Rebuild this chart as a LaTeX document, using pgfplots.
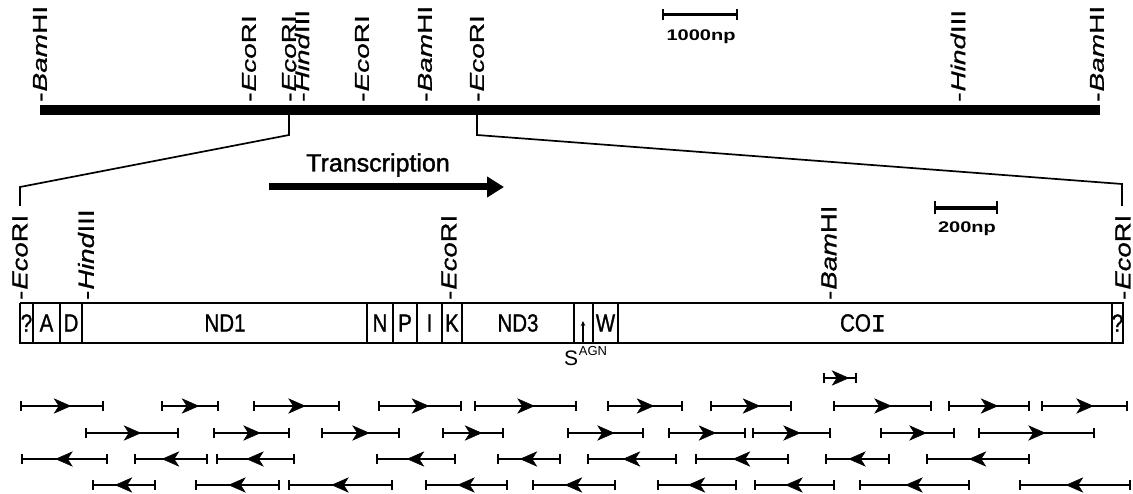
\documentclass[border=0pt]{standalone}
\usepackage{fontspec}
\setmainfont{Liberation Sans}
\newfontfamily\toplabfont[FakeStretch=1.4,FakeBold=1]{Liberation Sans}
\newfontfamily\midlabfont[FakeStretch=1.25,FakeBold=1]{Liberation Sans}
\newfontfamily\genefont[FakeStretch=0.82,FakeBold=1]{Liberation Sans}
\newfontfamily\barfont[FakeStretch=1.3]{Liberation Sans}
\newfontfamily\transfont[FakeBold=1.5]{Liberation Sans}
\newfontfamily\monofont[FakeBold=1]{Liberation Mono}
\usepackage{pgfplots}
\pgfplotsset{compat=1.18}
\usepackage{pgfplotstable}
\usetikzlibrary{arrows.meta}

\pgfdeclareplotmark{rhead}{%
  \pgfpathmoveto{\pgfqpoint{8.5pt}{0pt}}%
  \pgfpathlineto{\pgfqpoint{-7.5pt}{7pt}}%
  \pgfpathlineto{\pgfqpoint{-3pt}{0pt}}%
  \pgfpathlineto{\pgfqpoint{-7.5pt}{-7pt}}%
  \pgfpathclose\pgfusepathqfillstroke}
\pgfdeclareplotmark{lhead}{%
  \pgfpathmoveto{\pgfqpoint{-8.5pt}{0pt}}%
  \pgfpathlineto{\pgfqpoint{7.5pt}{7pt}}%
  \pgfpathlineto{\pgfqpoint{3pt}{0pt}}%
  \pgfpathlineto{\pgfqpoint{7.5pt}{-7pt}}%
  \pgfpathclose\pgfusepathqfillstroke}

% clone fragments: start, end, row height (pixels, y downwards)
\pgfplotstableread{
x0 x1 y
21 103 406
162 218 406
254 339 406
379 461 406
475 576 406
608 682 406
711 791 406
834 931 406
949 1029 406
1042 1127 406
}\rowA
\pgfplotstableread{
x0 x1 y
86 178 433
214 289 433
322 399 433
443 503 433
568 643 433
669 745 433
753 830 433
881 954 433
979 1094 433
}\rowB
\pgfplotstableread{
x0 x1 y
22 107 459
135 207 459
217 294 459
377 455 459
498 560 459
588 676 459
696 788 459
826 889 459
927 1029 459
}\rowC
\pgfplotstableread{
x0 x1 y
93 155 485
196 279 485
289 392 485
426 507 485
533 615 485
658 736 485
755 834 485
860 969 485
1020 1130 485
}\rowD
\pgfplotstableread{
x0 x1 y
824 856 378
}\rowS

\newcommand\Eco{\textit{Eco}RI}
\newcommand\Bam{\textit{Bam}HI}
\newcommand\Hind{\textit{Hind}III}

\tikzset{
  toplab/.style={rotate=90,anchor=west,inner sep=0pt,font=\fontsize{20}{20}\toplabfont},
  midlab/.style={rotate=90,anchor=west,inner sep=0pt,font=\fontsize{22}{22}\midlabfont},
  gene/.style={inner sep=0pt,font=\fontsize{25}{25}\genefont},
}
\pgfplotsset{
  seg/.style={only marks,black,line width=2.8pt,
    mark options={fill=black,line width=0.6pt},
    error bars/x dir=both,error bars/x explicit,
    error bars/error mark=|,
    error bars/error bar style={line width=2.8pt,black},
    error bars/error mark options={line width=2.2pt,mark size=5pt,black}},
}

\begin{document}
\begin{tikzpicture}
\begin{axis}[x=1pt,y=1pt,xmin=0,xmax=1133,ymin=0,ymax=494,
  y dir=reverse,hide axis,clip=false,scale only axis,
  anchor=south west,at={(0,0)},
]
% ---------- overview map ----------
\addplot[black,line width=10pt] coordinates {(40,110) (1100,110)};
\node[toplab] at (axis cs:40,102) {-\kern1pt\Bam};
\node[toplab] at (axis cs:249,102) {-\kern1pt\Eco};
\node[toplab] at (axis cs:289,102) {-\kern1pt\Eco};
\node[toplab] at (axis cs:302,102) {-\kern1pt\Hind};
\node[toplab] at (axis cs:362,102) {-\kern1pt\Eco};
\node[toplab] at (axis cs:425,102) {-\kern1pt\Bam};
\node[toplab] at (axis cs:477,102) {-\kern1pt\Eco};
\node[toplab] at (axis cs:958,102) {-\kern1pt\Hind};
\node[toplab] at (axis cs:1097,102) {-\kern1pt\Bam};
% scale bar 1000 np
\addplot[black,line width=3pt,{Bar[width=11pt,line width=2pt]}-{Bar[width=11pt,line width=2pt]}] coordinates {(662,15) (738,15)};
\node[font=\fontsize{15.4}{15.4}\barfont\bfseries] at (axis cs:701,37) {1000np};
% ---------- expansion lines ----------
\addplot[black,line width=1.7pt] coordinates {(289,115) (289,135) (20,187) (20,206)};
\addplot[black,line width=1.7pt] coordinates {(477,115) (477,135) (1122,184) (1122,206)};
% transcription
\node[font=\fontsize{25}{25}\transfont] at (axis cs:378,165) {Transcription};
\addplot[black,line width=7pt,-{Triangle[length=17pt,width=20pt]}] coordinates {(269,187) (504,187)};
% scale bar 200 np
\addplot[black,line width=4pt,{Bar[width=13pt,line width=2pt]}-{Bar[width=13pt,line width=2pt]}] coordinates {(934,208) (998,208)};
\node[font=\fontsize{15.4}{15.4}\barfont\bfseries] at (axis cs:967,229) {200np};
% ---------- detailed map ----------
\node[midlab] at (axis cs:20,300) {-\kern1pt\Eco};
\node[midlab] at (axis cs:86,300) {-\kern1pt\Hind};
\node[midlab] at (axis cs:449,300) {-\kern1pt\Eco};
\node[midlab] at (axis cs:829,300) {-\kern1pt\Bam};
\node[midlab] at (axis cs:1123,300) {-\kern1pt\Eco};
% gene box
\addplot[black,line width=1.9pt] coordinates {(20,303) (1123,303) (1123,343) (20,343) (20,303)};
\addplot[black,line width=1.9pt,unbounded coords=jump] coordinates {
 (33,303) (33,343) (33,nan)
 (60,303) (60,343) (60,nan)
 (82,303) (82,343) (82,nan)
 (367,303) (367,343) (367,nan)
 (393,303) (393,343) (393,nan)
 (417,303) (417,343) (417,nan)
 (442,303) (442,343) (442,nan)
 (462,303) (462,343) (462,nan)
 (574,303) (574,343) (574,nan)
 (593,303) (593,343) (593,nan)
 (618,303) (618,343) (618,nan)
 (1112,303) (1112,343)};
\node[gene] at (axis cs:26.5,323) {?};
\node[gene] at (axis cs:46.5,323) {A};
\node[gene] at (axis cs:71,323) {D};
\node[gene] at (axis cs:225,323) {ND1};
\node[gene] at (axis cs:380,323) {N};
\node[gene] at (axis cs:405,323) {P};
\node[gene] at (axis cs:429.5,323) {I};
\node[gene] at (axis cs:452,323) {K};
\node[gene] at (axis cs:518,323) {ND3};
\node[gene] at (axis cs:605.5,323) {W};
\node[gene] at (axis cs:863,323) {CO{\monofont I}};
\node[gene] at (axis cs:1117.5,323) {?};
% S(AGN)
\addplot[black,line width=1.3pt,-{Stealth[length=5pt,width=4.5pt]}] coordinates {(583,343) (583,321)};
\node[inner sep=0pt,font=\fontsize{21}{21}\selectfont] at (axis cs:571,358) {S};
\node[inner sep=0pt,font=\fontsize{13}{13}\selectfont] at (axis cs:593,351) {AGN};
% ---------- clone fragments ----------
\addplot[seg,mark=rhead] table[x expr={(\thisrow{x0}+\thisrow{x1})/2},y=y,x error expr={(\thisrow{x1}-\thisrow{x0})/2}] {\rowS};
\addplot[seg,mark=rhead] table[x expr={(\thisrow{x0}+\thisrow{x1})/2},y=y,x error expr={(\thisrow{x1}-\thisrow{x0})/2}] {\rowA};
\addplot[seg,mark=rhead] table[x expr={(\thisrow{x0}+\thisrow{x1})/2},y=y,x error expr={(\thisrow{x1}-\thisrow{x0})/2}] {\rowB};
\addplot[seg,mark=lhead] table[x expr={(\thisrow{x0}+\thisrow{x1})/2},y=y,x error expr={(\thisrow{x1}-\thisrow{x0})/2}] {\rowC};
\addplot[seg,mark=lhead] table[x expr={(\thisrow{x0}+\thisrow{x1})/2},y=y,x error expr={(\thisrow{x1}-\thisrow{x0})/2}] {\rowD};
\end{axis}
\pgfresetboundingbox
\path[use as bounding box] (current axis.south west) rectangle (current axis.north east);
\end{tikzpicture}
\end{document}
